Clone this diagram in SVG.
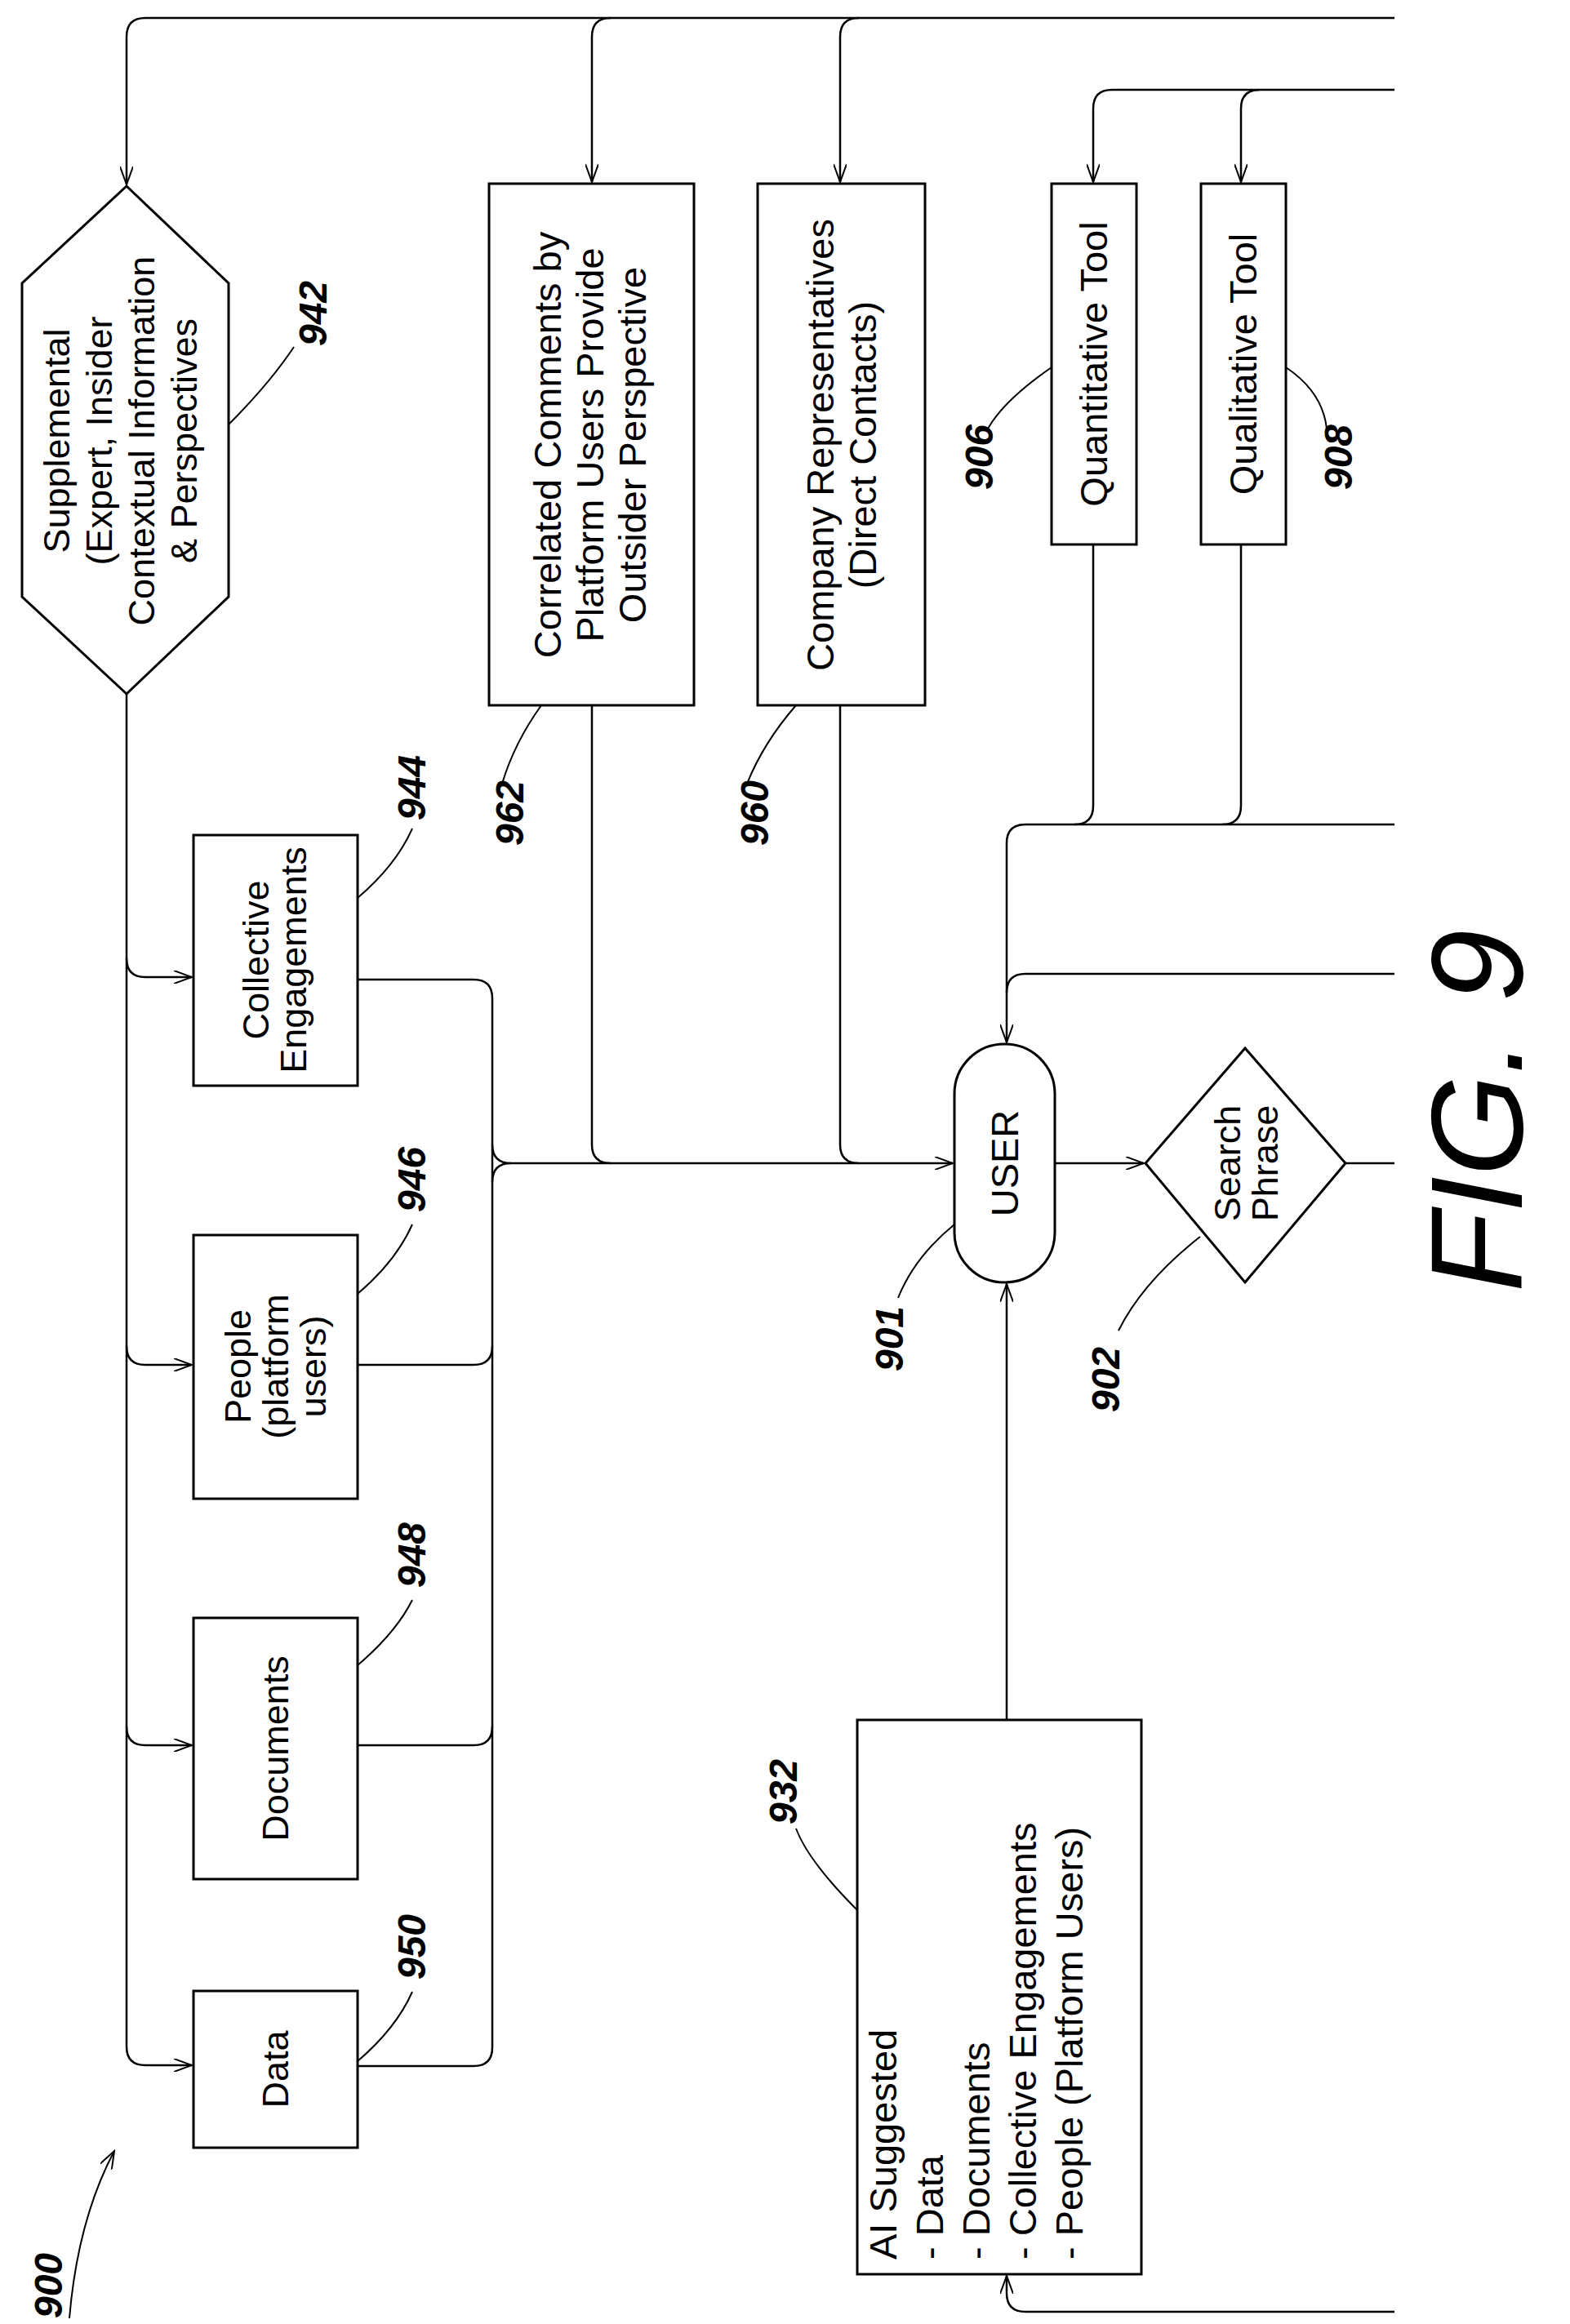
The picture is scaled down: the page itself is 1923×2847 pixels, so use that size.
<svg xmlns="http://www.w3.org/2000/svg" width="1923" height="2847" viewBox="0 0 1923 2847">
<style>
.n{fill:#fff;stroke:#000;stroke-width:3}
.c{fill:none;stroke:#000;stroke-width:2.5}
.l{fill:none;stroke:#000;stroke-width:2}
.t{font-family:"Liberation Sans",Arial,sans-serif;font-size:47px;text-anchor:middle;fill:#000}
.s{font-size:45px}
.r{font-family:"Liberation Sans",Arial,sans-serif;font-size:48px;font-weight:bold;font-style:italic;text-anchor:middle;fill:#000}
</style>
<defs><marker id="a" markerWidth="24" markerHeight="16" refX="22" refY="8" orient="auto" markerUnits="userSpaceOnUse"><path d="M0,0 L22,8 L0,16" fill="none" stroke="#000" stroke-width="2"/></marker></defs>
<rect width="1923" height="2847" fill="#fff"/>
<g id="connectors">
<path class="c" d="M1708,22 H178 Q155,22 155,45 V226" marker-end="url(#a)"/>
<path class="c" d="M748,22 Q725,22 725,45 V223" marker-end="url(#a)"/>
<path class="c" d="M1052,22 Q1029,22 1029,45 V223" marker-end="url(#a)"/>
<path class="c" d="M1708,110 H1362 Q1339,110 1339,133 V223" marker-end="url(#a)"/>
<path class="c" d="M1543,110 Q1520,110 1520,133 V223" marker-end="url(#a)"/>
<path class="c" d="M1339,667 V987 Q1339,1010 1316,1010"/>
<path class="c" d="M1520,667 V987 Q1520,1010 1497,1010"/>
<path class="c" d="M1708,1010 H1256 Q1233,1010 1233,1033 V1277" marker-end="url(#a)"/>
<path class="c" d="M1708,1193 H1256 Q1233,1193 1233,1216"/>
<path class="c" d="M1292,1425 H1401" marker-end="url(#a)"/>
<path class="c" d="M1648,1425 H1708"/>
<path class="c" d="M1233,2107 V1573" marker-end="url(#a)"/>
<path class="c" d="M1708,2832 H1256 Q1233,2832 1233,2809 V2788" marker-end="url(#a)"/>
<path class="c" d="M155,850 V2507 Q155,2530 178,2530 H235" marker-end="url(#a)"/>
<path class="c" d="M155,1174 Q155,1197 178,1197 H235" marker-end="url(#a)"/>
<path class="c" d="M155,1649 Q155,1672 178,1672 H235" marker-end="url(#a)"/>
<path class="c" d="M155,2115 Q155,2138 178,2138 H235" marker-end="url(#a)"/>
<path class="c" d="M438,1200 H580 Q603,1200 603,1223 V2508 Q603,2531 580,2531 H438"/>
<path class="c" d="M438,1672 H580 Q603,1672 603,1649"/>
<path class="c" d="M438,2138 H580 Q603,2138 603,2115"/>
<path class="c" d="M603,1402 Q603,1425 626,1425 H1167" marker-end="url(#a)"/>
<path class="c" d="M603,1448 Q603,1425 626,1425"/>
<path class="c" d="M725,864 V1402 Q725,1425 748,1425"/>
<path class="c" d="M1029,864 V1402 Q1029,1425 1052,1425"/>
</g>
<g id="n942"><polygon class="n" points="155,228 280,347 280,731 155,850 27,731 27,347"/>
<text class="t s" transform="rotate(-90 153 540)" x="153" y="540"><tspan x="153" dy="-68">Supplemental</tspan><tspan x="153" dy="52">(Expert, Insider</tspan><tspan x="153" dy="52">Contextual Information</tspan><tspan x="153" dy="52">&amp; Perspectives</tspan></text>
<path class="l" d="M280,520 Q330,470 360,425"/><text class="r" transform="rotate(-90 384 384)" x="384" y="400">942</text></g>
<g id="n962"><rect class="n" x="599" y="225" width="251" height="639"/>
<text class="t" transform="rotate(-90 725 545)" x="725" y="545"><tspan x="725" dy="-38">Correlated Comments by</tspan><tspan x="725" dy="52">Platform Users Provide</tspan><tspan x="725" dy="52">Outsider Perspective</tspan></text>
<path class="l" d="M663,864 Q630,910 615,960"/><text class="r" transform="rotate(-90 625 996)" x="625" y="1012">962</text></g>
<g id="n960"><rect class="n" x="928" y="225" width="205" height="639"/>
<text class="t" transform="rotate(-90 1031 545)" x="1031" y="545"><tspan x="1031" dy="-10">Company Representatives</tspan><tspan x="1031" dy="52">(Direct Contacts)</tspan></text>
<path class="l" d="M975,864 Q935,910 915,960"/><text class="r" transform="rotate(-90 925 996)" x="925" y="1012">960</text></g>
<g id="n906"><rect class="n" x="1288" y="225" width="104" height="442"/>
<text class="t" transform="rotate(-90 1340 446)" x="1340" y="462">Quantitative Tool</text>
<path class="l" d="M1288,450 Q1230,490 1210,525"/><text class="r" transform="rotate(-90 1200 560)" x="1200" y="576">906</text></g>
<g id="n908"><rect class="n" x="1471" y="225" width="104" height="442"/>
<text class="t" transform="rotate(-90 1523 446)" x="1523" y="462">Qualitative Tool</text>
<path class="l" d="M1575,450 Q1620,480 1625,525"/><text class="r" transform="rotate(-90 1640 560)" x="1640" y="576">908</text></g>
<g id="n944"><rect class="n" x="237" y="1023" width="201" height="307"/>
<text class="t s" transform="rotate(-90 337 1176)" x="337" y="1176"><tspan x="337" dy="-8">Collective</tspan><tspan x="337" dy="46">Engagements</tspan></text>
<path class="l" d="M438,1100 Q485,1060 505,1015"/><text class="r" transform="rotate(-90 505 965)" x="505" y="981">944</text></g>
<g id="n946"><rect class="n" x="237" y="1513" width="201" height="323"/>
<text class="t s" transform="rotate(-90 337 1674)" x="337" y="1674"><tspan x="337" dy="-30">People</tspan><tspan x="337" dy="46">(platform</tspan><tspan x="337" dy="46">users)</tspan></text>
<path class="l" d="M438,1585 Q485,1545 505,1500"/><text class="r" transform="rotate(-90 505 1445)" x="505" y="1461">946</text></g>
<g id="n948"><rect class="n" x="237" y="1982" width="201" height="320"/>
<text class="t s" transform="rotate(-90 337 2142)" x="337" y="2158">Documents</text>
<path class="l" d="M438,2040 Q485,2000 505,1960"/><text class="r" transform="rotate(-90 505 1905)" x="505" y="1921">948</text></g>
<g id="n950"><rect class="n" x="237" y="2439" width="201" height="192"/>
<text class="t s" transform="rotate(-90 337 2535)" x="337" y="2551">Data</text>
<path class="l" d="M438,2525 Q485,2485 505,2440"/><text class="r" transform="rotate(-90 505 2385)" x="505" y="2401">950</text></g>
<g id="n901"><rect class="n" x="1169" y="1279" width="123" height="292" rx="61" ry="61"/>
<text class="t" transform="rotate(-90 1231 1425)" x="1231" y="1441">USER</text>
<path class="l" d="M1169,1500 Q1120,1540 1100,1590"/><text class="r" transform="rotate(-90 1090 1640)" x="1090" y="1656">901</text></g>
<g id="n902"><polygon class="n" points="1525,1284 1648,1425 1525,1571 1403,1425"/>
<text class="t s" transform="rotate(-90 1525 1425)" x="1525" y="1425"><tspan x="1525" dy="-6">Search</tspan><tspan x="1525" dy="46">Phrase</tspan></text>
<path class="l" d="M1470,1515 Q1400,1570 1370,1630"/><text class="r" transform="rotate(-90 1355 1690)" x="1355" y="1706">902</text></g>
<g id="n932"><rect class="n" x="1050" y="2107" width="348" height="679"/>
<text class="t" style="text-anchor:start" transform="rotate(-90 1050 2768)" x="1050" y="2768"><tspan x="1050" dy="48">AI Suggested</tspan><tspan x="1050" dy="57">- Data</tspan><tspan x="1050" dy="57">- Documents</tspan><tspan x="1050" dy="57">- Collective Engagements</tspan><tspan x="1050" dy="57">- People (Platform Users)</tspan></text>
<path class="l" d="M1050,2340 Q990,2280 975,2240"/><text class="r" transform="rotate(-90 960 2195)" x="960" y="2211">932</text></g>
<g id="n900"><path class="l" d="M85,2840 Q95,2720 140,2635" marker-end="url(#a)"/><text class="r" transform="rotate(-90 60 2800)" x="60" y="2816">900</text></g>
<text class="r" style="font-size:160px;font-weight:normal" transform="rotate(-90 1810 1361)" x="1810" y="1415">FIG. 9</text>
</svg>
